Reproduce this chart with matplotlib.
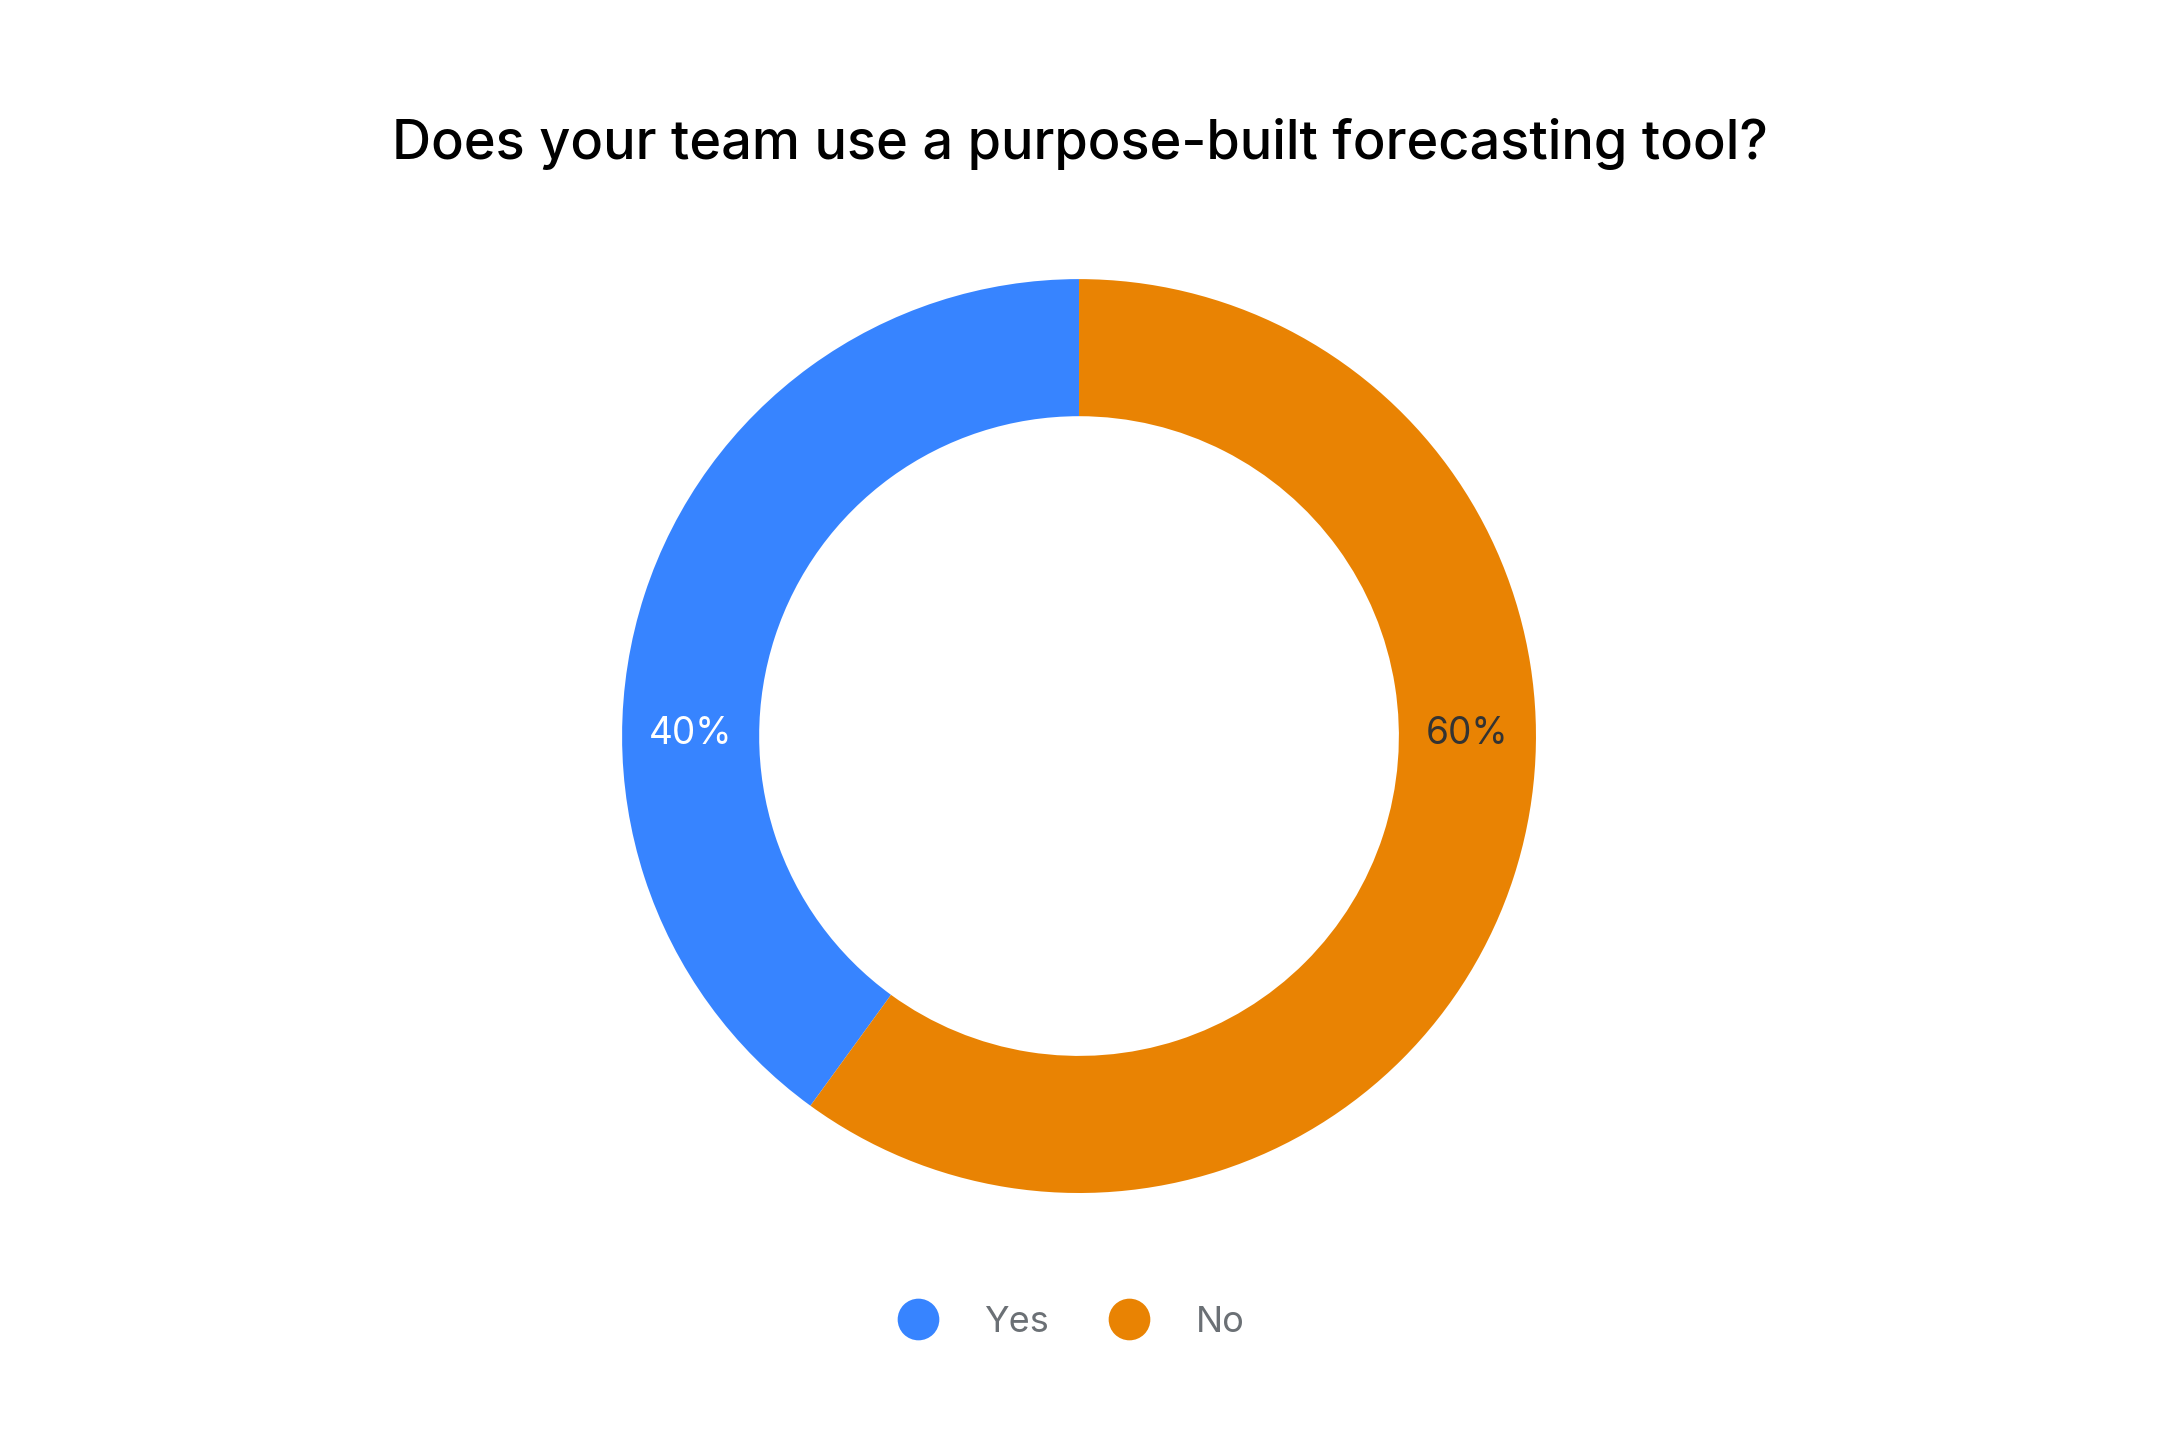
import matplotlib
matplotlib.use("Agg")
import matplotlib.pyplot as plt
from matplotlib.lines import Line2D

plt.rcParams["font.family"] = ["Inter", "DejaVu Sans"]

title = "Does your team use a purpose-built forecasting tool?"
labels = ["Yes", "No"]
values = [40, 60]
colors = ["#3784FF", "#E98303"]
label_colors = ["#FFFFFF", "#333333"]

fig = plt.figure(figsize=(10.8, 7.2), dpi=200)
fig.patch.set_facecolor("white")

# square axes holding the donut, radius 1 == outer edge
ax = fig.add_axes([0.288, 0.1715, 0.4231, 0.6347])
ring = 0.30
wedges, _ = ax.pie(values, colors=colors, startangle=90, counterclock=True,
                   radius=1, wedgeprops=dict(width=ring, linewidth=0))
ax.set_xlim(-1, 1)
ax.set_ylim(-1, 1)
ax.set_aspect("equal")
ax.axis("off")

# percent labels sit mid-ring on the horizontal
mid = 1 - ring / 2
for side, v, c in zip([-1, 1], values, label_colors):
    ax.text(side * mid, 0.005, f"{v}%", ha="center", va="center",
            fontsize=13.3, color=c)

fig.text(0.5, 1 - 159 / 1440, title, ha="center", va="baseline",
         fontsize=19.5, color="#000000", fontweight="medium")

handles = [Line2D([], [], marker="o", linestyle="", markersize=15,
                  markerfacecolor=c, markeredgewidth=0) for c in colors]
fig.legend(handles, labels, loc="center",
           bbox_to_anchor=(0.5 - 8 / 2160, 1 - 1322 / 1440),
           ncol=2, frameon=False, fontsize=13, labelcolor="#6B7075",
           handlelength=1.0, handletextpad=1.35, columnspacing=1.7)

fig.savefig("out.png", dpi=200)
